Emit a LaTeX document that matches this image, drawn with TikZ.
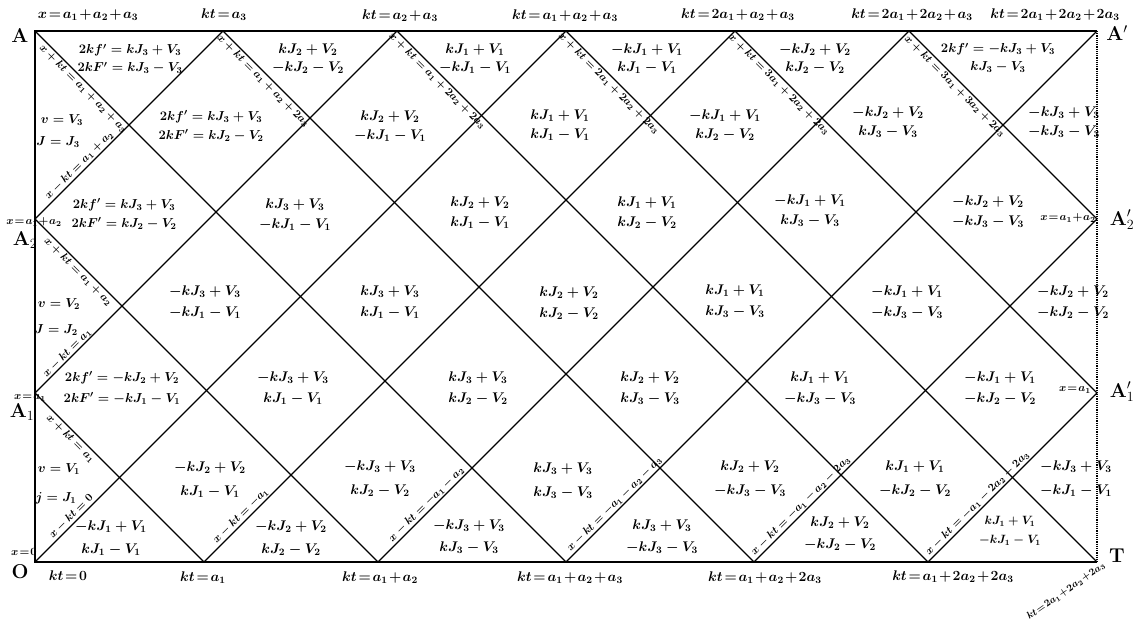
\RequirePackage{fix-cm}
\documentclass[tikz,border=0pt]{standalone}
\usepackage{tikz}
\usetikzlibrary{positioning}
\newcommand\tightmath{\medmuskip=1.5mu\relax\thickmuskip=2mu\relax}
\newcommand\tightermath{\medmuskip=1mu\relax\thickmuskip=1.5mu\relax}
\tikzset{
  frame_line/.style={line width=1.6pt},
  char_line/.style={line width=1.2pt},
  cell_lbl/.style={font=\fontsize{14}{#1}\selectfont\boldmath,align=center,inner sep=0pt},
  cell_lbl/.default=20,
  fun_lbl/.style={font=\fontsize{13}{#1}\selectfont\boldmath,align=center,inner sep=0pt},
  fun_lbl/.default=19,
  side_lbl/.style={font=\fontsize{13}{15}\selectfont\boldmath,inner sep=0pt},
  line_lbl/.style={font=\fontsize{11}{13}\selectfont\boldmath,sloped,inner sep=1.5pt},
  axis_lbl/.style={font=\fontsize{14}{16}\selectfont\boldmath\tightmath,inner sep=0pt},
  edge_lbl/.style={font=\fontsize{11}{13}\selectfont\boldmath\tightermath,inner sep=0pt},
  pt_lbl/.style={font=\fontsize{20}{22}\selectfont\bfseries,inner sep=0pt},
}

\begin{document}
\begin{tikzpicture}[x=1pt,y=-1pt]
      \useasboundingbox (0,0) rectangle (1138,622);
      \coordinate (O) at (35,562);
      \coordinate (A) at (35,31);
      \coordinate (A1) at (35,393);
      \coordinate (A2) at (35,219);
      \coordinate (T) at (1097,562);
      \coordinate (Ap) at (1097,31);
      \coordinate (Ap1) at (1097,393);
      \coordinate (Ap2) at (1097,219);
      \coordinate (t1) at (223,31);
      \coordinate (t2) at (397,31);
      \coordinate (t3) at (566,31);
      \coordinate (t4) at (735,31);
      \coordinate (t5) at (909,31);
      \coordinate (b1) at (204,562);
      \coordinate (b2) at (378,562);
      \coordinate (b3) at (566,562);
      \coordinate (b4) at (754,562);
      \coordinate (b5) at (928,562);

      \draw[frame_line] (Ap) -- (A) -- (O) -- (T);
      \draw[char_line,densely dotted] (Ap) -- (T);

      \draw[char_line] (A) -- node[line_lbl,pos=.1,below] (l1) {$x+kt=a_1+a_2+a_3$} (b3);
      \draw[char_line] (A2) -- node[line_lbl,pos=.14,below] (l2) {$x+kt=a_1+a_2$} (b2);
      \draw[char_line] (A1) -- node[line_lbl,pos=.24,below] (l3) {$x+kt=a_1$} (b1);
      \draw[char_line] (t1) -- node[line_lbl,pos=.085,below] (l4) {$x+kt=a_1+a_2+2a_3$} (b4);
      \draw[char_line] (t2) -- node[line_lbl,pos=.085,below] (l5) {$x+kt=a_1+2a_2+2a_3$} (b5);
      \draw[char_line] (t3) -- node[line_lbl,pos=.09,below] (l6) {$x+kt=2a_1+2a_2+2a_3$} (T);
      \draw[char_line] (t4) -- node[line_lbl,pos=.135,below] (l7) {$x+kt=3a_1+2a_2+2a_3$} (Ap1);
      \draw[char_line] (t5) -- node[line_lbl,pos=.27,below] (l8) {$x+kt=3a_1+3a_2+2a_3$} (Ap2);

      \draw[char_line] (O) -- node[line_lbl,pos=.077,above] (m1) {$x-kt=0$} (t3);
      \draw[char_line] (A1) -- node[line_lbl,pos=.1,above=-1pt] (m2) {$x-kt=a_1$} (t2);
      \draw[char_line] (A2) -- node[line_lbl,pos=.26,above] (m3) {$x-kt=a_1+a_2$} (t1);
      \draw[char_line] (b1) -- node[line_lbl,pos=.078,above] (m4) {$x-kt=-a_1$} (t4);
      \draw[char_line] (b2) -- node[line_lbl,pos=.1,above] (m5) {$x-kt=-a_1-a_2$} (t5);
      \draw[char_line] (b3) -- node[line_lbl,pos=.1,above] (m6) {$x-kt=-a_1-a_2-a_3$} (Ap);
      \draw[char_line] (b4) -- node[line_lbl,pos=.15,above] (m7) {$x-kt=-a_1-a_2-2a_3$} (Ap2);
      \draw[char_line] (b5) -- node[line_lbl,pos=.32,above] (m8) {$x-kt=-a_1-2a_2-2a_3$} (Ap1);

      \node[fun_lbl=18] (c11) at (130,59) {$2kf'=kJ_3+V_3$\\$2kF'=kJ_3-V_3$};
      \node[cell_lbl=18] (c12) at (308,59) {$kJ_2+V_2$\\$-kJ_2-V_2$};
      \node[cell_lbl=18] (c13) at (475,59) {$kJ_1+V_1$\\$-kJ_1-V_1$};
      \node[cell_lbl=18] (c14) at (647,59) {$-kJ_1+V_1$\\$kJ_1-V_1$};
      \node[cell_lbl=18] (c15) at (815,59) {$-kJ_2+V_2$\\$kJ_2-V_2$};
      \node[fun_lbl=18] (c16) at (998,58) {$2kf'=-kJ_3+V_3$\\$kJ_3-V_3$};

      \node[fun_lbl] (c21) at (211,126) {$2kf'=kJ_3+V_3$\\$2kF'=kJ_2-V_2$};
      \node[cell_lbl=19] (c22) at (390,126) {$kJ_2+V_2$\\$-kJ_1-V_1$};
      \node[cell_lbl=19] (c23) at (560,125) {$kJ_1+V_1$\\$kJ_1-V_1$};
      \node[cell_lbl=19] (c24) at (725,125) {$-kJ_1+V_1$\\$kJ_2-V_2$};
      \node[cell_lbl=19] (c25) at (888,122) {$-kJ_2+V_2$\\$kJ_3-V_3$};
      \node[cell_lbl=19] (c26) at (1064,122) {$-kJ_3+V_3$\\$-kJ_3-V_3$};

      \node[fun_lbl] (c31) at (124,214) {$2kf'=kJ_3+V_3$\\$2kF'=kJ_2-V_2$};
      \node[cell_lbl] (c32) at (295,215) {$kJ_3+V_3$\\$-kJ_1-V_1$};
      \node[cell_lbl] (c33) at (480,213) {$kJ_2+V_2$\\$kJ_1-V_1$};
      \node[cell_lbl] (c34) at (647,213) {$kJ_1+V_1$\\$kJ_2-V_2$};
      \node[cell_lbl] (c35) at (810,211) {$-kJ_1+V_1$\\$kJ_3-V_3$};
      \node[cell_lbl] (c36) at (988,212) {$-kJ_2+V_2$\\$-kJ_3-V_3$};

      \node[cell_lbl=21] (c41) at (205,302) {$-kJ_3+V_3$\\$-kJ_1-V_1$};
      \node[cell_lbl=21] (c42) at (390,302) {$kJ_3+V_3$\\$kJ_1-V_1$};
      \node[cell_lbl=21] (c43) at (569,303) {$kJ_2+V_2$\\$kJ_2-V_2$};
      \node[cell_lbl=21] (c44) at (735,301) {$kJ_1+V_1$\\$kJ_3-V_3$};
      \node[cell_lbl=21] (c45) at (907,302) {$-kJ_1+V_1$\\$-kJ_3-V_3$};
      \node[cell_lbl=21] (c46) at (1073,302) {$-kJ_2+V_2$\\$-kJ_2-V_2$};

      \node[fun_lbl=21] (c51) at (122,388) {$2kf'=-kJ_2+V_2$\\$2kF'=-kJ_1-V_1$};
      \node[cell_lbl=21] (c52) at (293,388) {$-kJ_3+V_3$\\$kJ_1-V_1$};
      \node[cell_lbl=21] (c53) at (478,388) {$kJ_3+V_3$\\$kJ_2-V_2$};
      \node[cell_lbl=21] (c54) at (650,388) {$kJ_2+V_2$\\$kJ_3-V_3$};
      \node[cell_lbl=21] (c55) at (820,388) {$kJ_1+V_1$\\$-kJ_3-V_3$};
      \node[cell_lbl=21] (c56) at (1000,388) {$-kJ_1+V_1$\\$-kJ_2-V_2$};

      \node[cell_lbl=24] (c61) at (210,480) {$-kJ_2+V_2$\\$kJ_1-V_1$};
      \node[cell_lbl=24] (c62) at (380,479) {$-kJ_3+V_3$\\$kJ_2-V_2$};
      \node[cell_lbl=24] (c63) at (563,481) {$kJ_3+V_3$\\$kJ_3-V_3$};
      \node[cell_lbl=24] (c64) at (750,479) {$kJ_2+V_2$\\$-kJ_3-V_3$};
      \node[cell_lbl=24] (c65) at (915,479) {$kJ_1+V_1$\\$-kJ_2-V_2$};
      \node[cell_lbl=24] (c66) at (1076,479) {$-kJ_3+V_3$\\$-kJ_1-V_1$};

      \node[cell_lbl=23] (c71) at (111,538) {$-kJ_1+V_1$\\$kJ_1-V_1$};
      \node[cell_lbl=23] (c72) at (291,538) {$-kJ_2+V_2$\\$kJ_2-V_2$};
      \node[cell_lbl=22] (c73) at (469,537) {$-kJ_3+V_3$\\$kJ_3-V_3$};
      \node[cell_lbl=22] (c74) at (662,537) {$kJ_3+V_3$\\$-kJ_3-V_3$};
      \node[cell_lbl=22] (c75) at (840,534) {$kJ_2+V_2$\\$-kJ_2-V_2$};
      \node[cell_lbl=19,font=\fontsize{12}{19}\selectfont\boldmath] (c76) at (1010,531) {$kJ_1+V_1$\\$-kJ_1-V_1$};

      \node[side_lbl] (v3) at (62,120) {$v=V_3$};
      \node[side_lbl] (j3) at (58,142) {$J=J_3$};
      \node[side_lbl] (v2) at (59,304) {$v=V_2$};
      \node[side_lbl] (j2) at (56,330) {$J=J_2$};
      \node[side_lbl] (v1) at (59,469) {$v=V_1$};
      \node[side_lbl] (j1) at (56,498) {$j=J_1$};

      \node[axis_lbl] (tx) at (88,15) {$x=a_1+a_2+a_3$};
      \node[axis_lbl] (tk1) at (224,15) {$kt=a_3$};
      \node[axis_lbl] (tk2) at (400,16) {$kt=a_2+a_3$};
      \node[axis_lbl] (tk3) at (565,16) {$kt=a_1+a_2+a_3$};
      \node[axis_lbl] (tk4) at (738,15) {$kt=2a_1+a_2+a_3$};
      \node[axis_lbl] (tk5) at (912,15) {$kt=2a_1+2a_2+a_3$};
      \node[axis_lbl] (tk6) at (1055,15) {$kt=2a_1+2a_2+2a_3$};

      \node[axis_lbl] (bk0) at (68,576) {$kt=0$};
      \node[axis_lbl] (bk1) at (203,578) {$kt=a_1$};
      \node[axis_lbl] (bk2) at (380,578) {$kt=a_1+a_2$};
      \node[axis_lbl] (bk3) at (570,578) {$kt=a_1+a_2+a_3$};
      \node[axis_lbl] (bk4) at (765,578) {$kt=a_1+a_2+2a_3$};
      \node[axis_lbl] (bk5) at (953,577) {$kt=a_1+2a_2+2a_3$};
      \node[edge_lbl,font=\fontsize{10}{12}\selectfont\boldmath\tightermath,rotate=35] (bk6) at (1066,591) {$kt=2a_1+2a_2+2a_3$};

      \node[edge_lbl] (xl2) at (34,222) {$x=a_1+a_2$};
      \node[edge_lbl] (xl1) at (30,398) {$x=a_1$};
      \node[edge_lbl] (xl0) at (24,552) {$x=0$};
      \node[edge_lbl] (xr2) at (1068,218) {$x=a_1+a_2$};
      \node[edge_lbl] (xr1) at (1075,390) {$x=a_1$};

      \node[pt_lbl] (nA) at (20,35) {A};
      \node[pt_lbl] (nA2) at (25,240) {A$_2$};
      \node[pt_lbl] (nA1) at (22,412) {A$_1$};
      \node[pt_lbl] (nO) at (20,572) {O};
      \node[pt_lbl] (nAp) at (1117,33) {A$'$};
      \node[pt_lbl] (nAp2) at (1122,220) {A$'_2$};
      \node[pt_lbl] (nAp1) at (1122,392) {A$'_1$};
      \node[pt_lbl] (nT) at (1117,556) {T};
    \end{tikzpicture}
\end{document}
